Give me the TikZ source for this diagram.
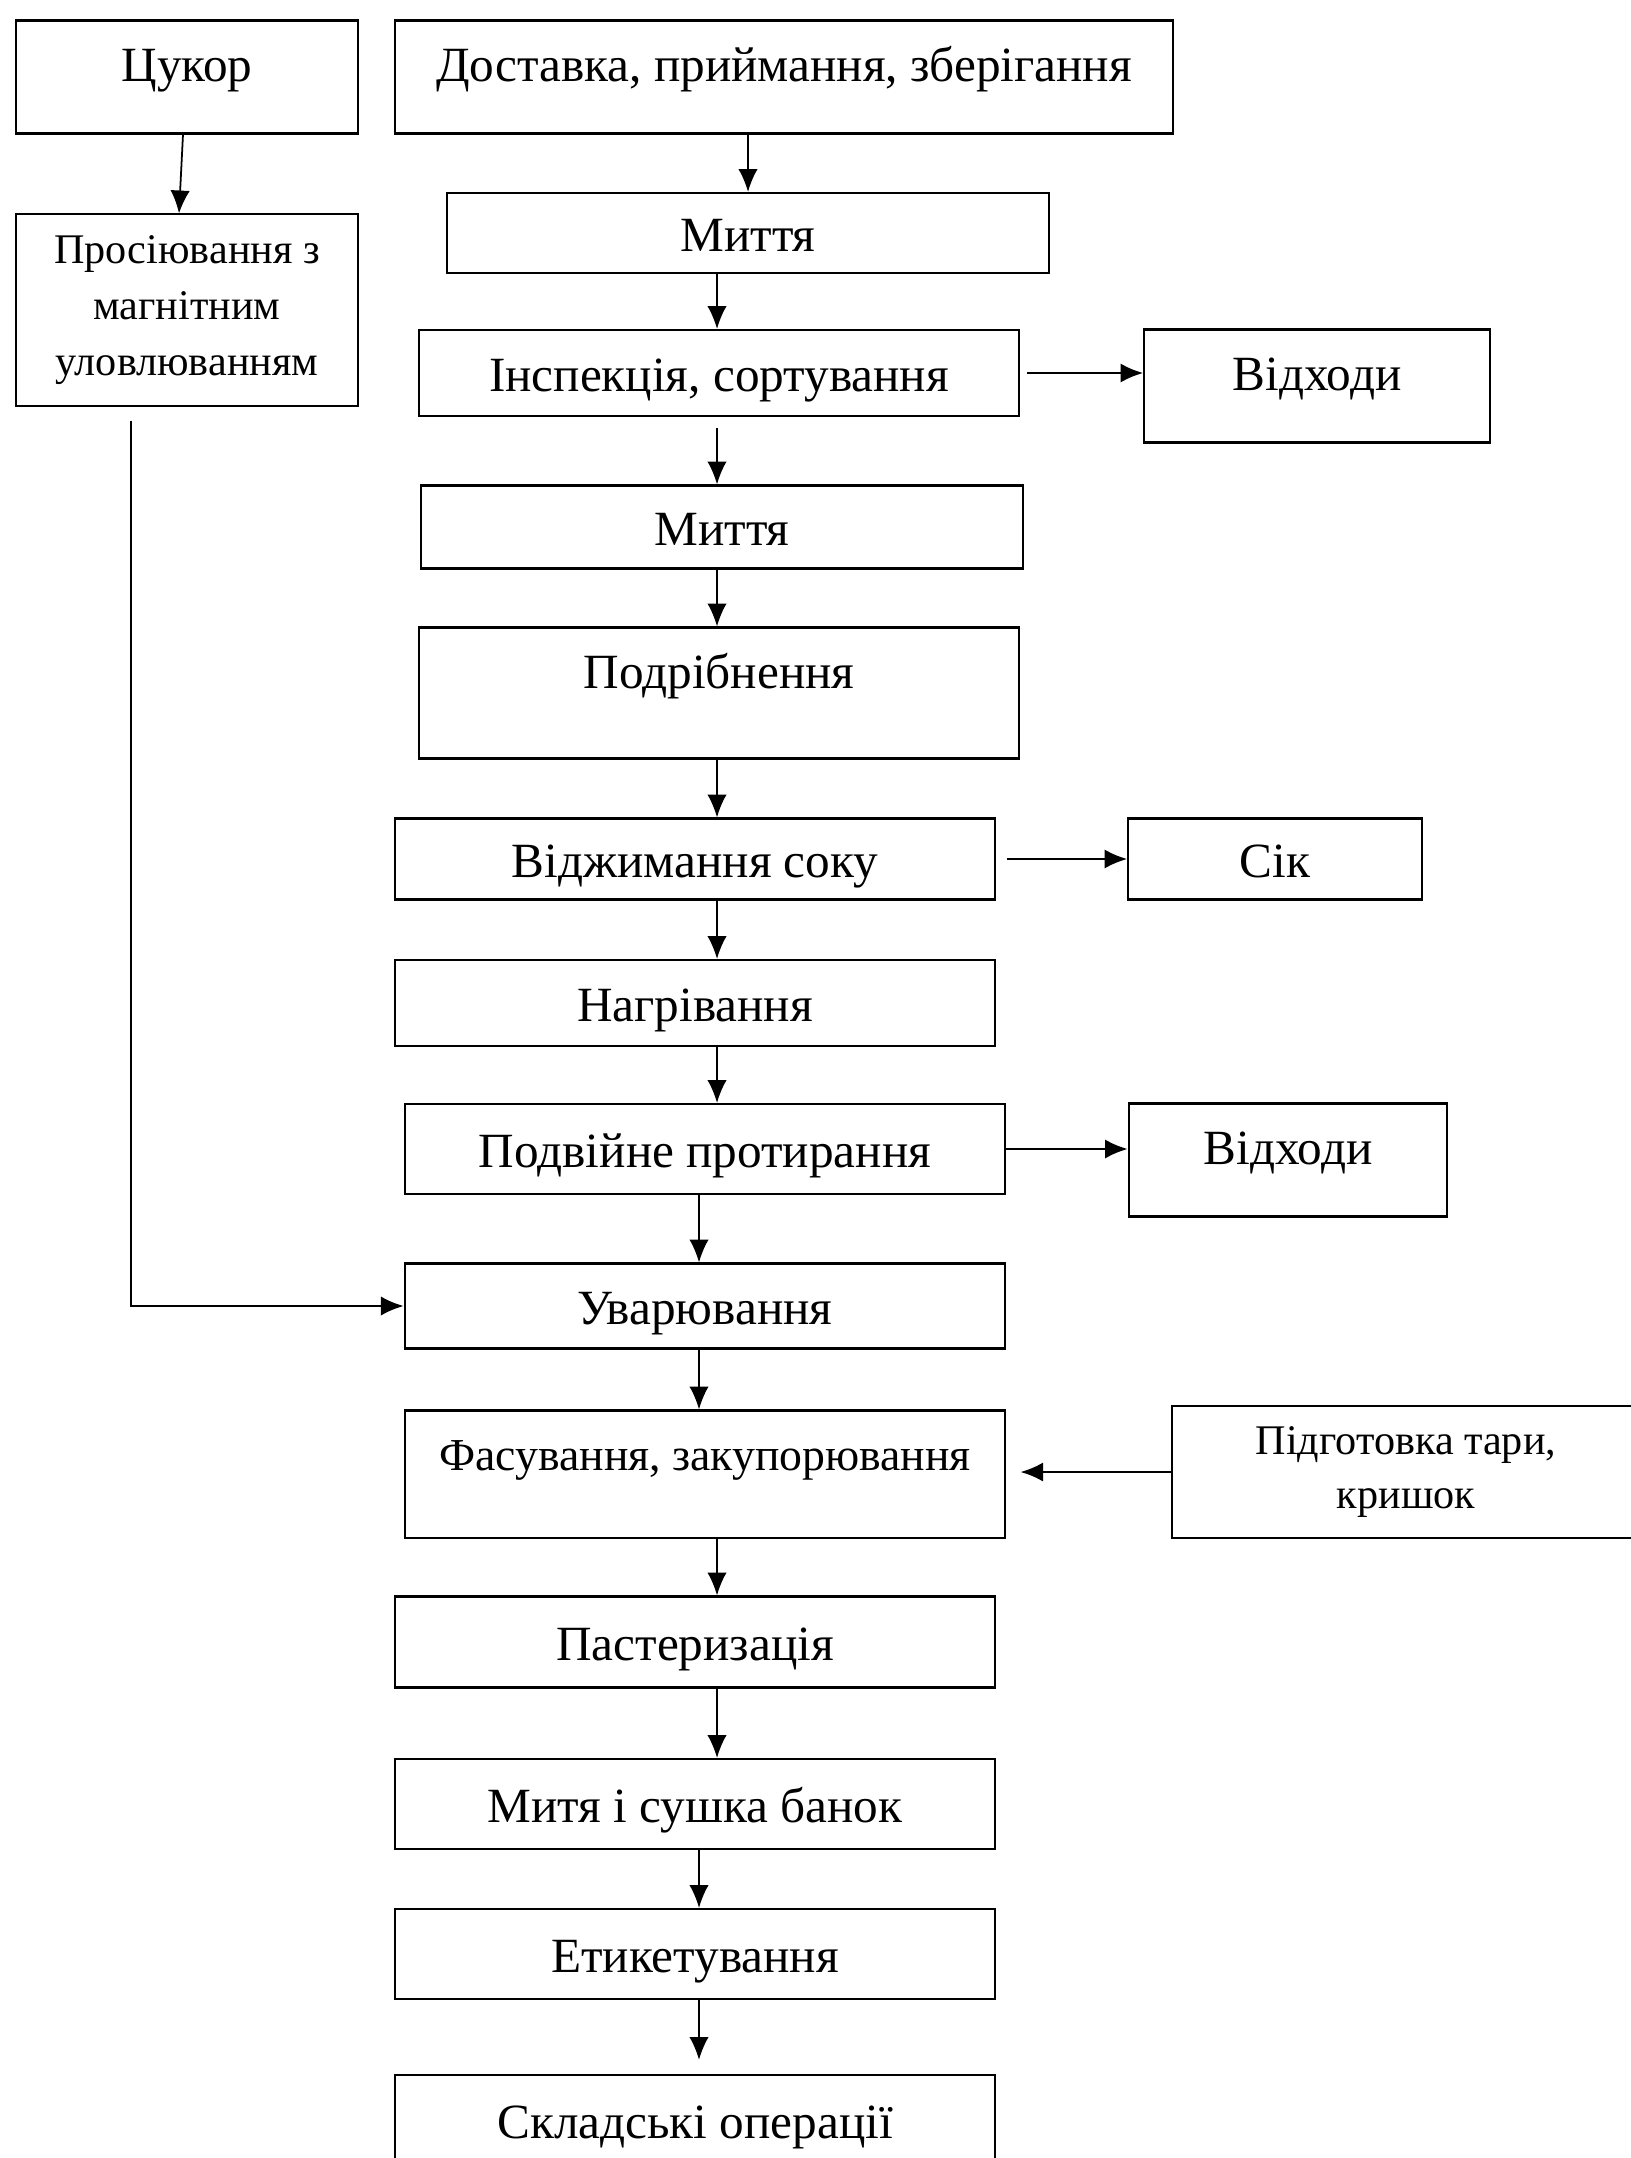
\documentclass[tikz,border=0pt]{standalone}
\usepackage{fontspec}
\setmainfont{Liberation Serif}
\usetikzlibrary{arrows.meta,calc}

\begin{document}
\begin{tikzpicture}[x=0.01cm,y=-0.01cm,>={Latex[length=6.5pt,width=5.5pt]},
  box/.style={draw,line width=0.6pt,inner sep=0pt,align=center,text height=0.41cm,text depth=0.05cm,font=\fontsize{14}{17}\selectfont},
  toptext/.style={text height=0.61cm,text depth=#1},
  flow/.style={->,line width=0.5pt},
  side/.style={->,line width=0.8pt}]
\useasboundingbox (0,0) rectangle (1630,2158);
\node[box,toptext=0.52cm,minimum width=3.42cm](cukor) at (187,77){Цукор};
\node[box,toptext=0.52cm,minimum width=7.78cm](deliv) at (784,77){Доставка, приймання, зберігання};
\node[box,minimum width=6.02cm,minimum height=0.8cm](wash1) at (748,233){Миття};
\node[box,minimum width=6cm,minimum height=0.86cm](insp) at (719,373){Інспекція, сортування};
\node[box,toptext=0.52cm,minimum width=3.45cm](waste1) at (1317,386){Відходи};
\node[box,minimum width=6.02cm,minimum height=0.83cm](wash2) at (722,527){Миття};
\node[box,toptext=0.70cm,minimum width=6cm](crush) at (719,693){Подрібнення};
\node[box,minimum width=6cm,minimum height=0.81cm](press) at (695,859){Віджимання соку};
\node[box,minimum width=2.93cm,minimum height=0.81cm](juice) at (1275,859){Сік};
\node[box,minimum width=6cm,minimum height=0.86cm](heat) at (695,1003){Нагрівання};
\node[box,minimum width=6cm,minimum height=0.9cm](rub) at (705,1149){Подвійне протирання};
\node[box,toptext=0.52cm,minimum width=3.18cm](waste2) at (1288,1160){Відходи};
\node[box,minimum width=6cm,minimum height=0.85cm](boil) at (705,1306){Уварювання};
\node[box,text height=0.60cm,text depth=0.67cm,minimum width=6cm,font=\fontsize{13}{16}\selectfont](pack) at (705,1474){Фасування, закупорювання};
\node[box,text height=,text depth=,minimum width=4.68cm,minimum height=1.32cm,font=\fontsize{12}{15.5}\selectfont](prep) at (1406,1472){Підготовка тари,\\кришок};
\node[box,minimum width=6cm,minimum height=0.91cm](past) at (695,1642){Пастеризація};
\node[box,minimum width=6cm,minimum height=0.9cm](dry) at (695,1804){Митя і сушка банок};
\node[box,minimum width=6cm,minimum height=0.9cm](label) at (695,1954){Етикетування};
\node[box,minimum width=6cm,minimum height=0.9cm](store) at (695,2120){Складські операції};
\node[box,text height=,text depth=,minimum width=3.42cm,minimum height=1.91cm,font=\fontsize{12}{16}\selectfont](sift) at (187,310){Просіювання з\\магнітним\\уловлюванням};
\coordinate (axis) at (717,0);
\coordinate (axisb) at (699,0);
% main line
\draw[flow](wash1.north |- deliv.south)--(wash1.north);
\draw[flow](axis |- wash1.south)--(axis |- insp.north);
\draw[flow,shorten <=3pt](axis |- insp.south)--(axis |- wash2.north);
\draw[flow](axis |- wash2.south)--(axis |- crush.north);
\draw[flow](axis |- crush.south)--(axis |- press.north);
\draw[flow](axis |- press.south)--(axis |- heat.north);
\draw[flow](axis |- heat.south)--(axis |- rub.north);
\draw[flow](axisb |- rub.south)--(axisb |- boil.north);
\draw[flow](axisb |- boil.south)--(axisb |- pack.north);
\draw[flow](axis |- pack.south)--(axis |- past.north);
\draw[flow](axis |- past.south)--(axis |- dry.north);
\draw[flow](axisb |- dry.south)--(axisb |- label.north);
\draw[flow,shorten >=4pt](axisb |- label.south)--(axisb |- store.north);
% side branches
\draw[side,shorten <=2pt](insp.east)--(waste1.west |- insp.east);
\draw[side,shorten <=3pt](press.east)--(juice.west);
\draw[side](rub.east)--(waste2.west |- rub.east);
\draw[side,shorten >=4pt](prep.west)--(pack.east |- prep.west);
% sugar
\draw[flow]($(cukor.south)+(-4,0)$)--($(sift.north)+(-8,0)$);
\draw[side,line width=0.7pt]($(sift.south)+(-56,14)$) |- (boil.west);
\end{tikzpicture}
\end{document}
